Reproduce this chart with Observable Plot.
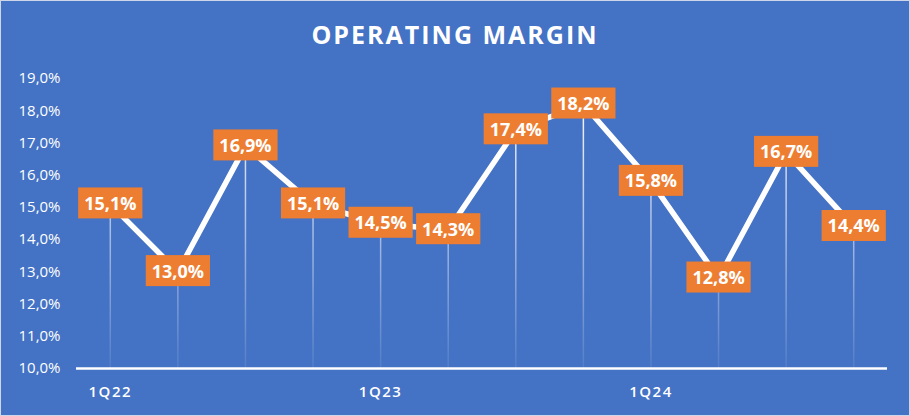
<!DOCTYPE html>
<html><head><meta charset="utf-8">
<script src="https://cdn.jsdelivr.net/npm/d3@7"></script>
<script src="https://cdn.jsdelivr.net/npm/@observablehq/plot@0.6"></script>
<style>
html,body{margin:0;padding:0;background:#4472C4;}
#chart{position:relative;width:910px;height:416px;background:#4472C4;overflow:hidden;font-family:"Open Sans",sans-serif;}
#frame{position:absolute;left:0;top:0;width:910px;height:416px;box-sizing:border-box;border:1px solid #cfd6ea;pointer-events:none;}
#title{position:absolute;top:22px;left:0;width:910px;text-align:center;color:#fff;font-weight:700;font-size:25px;line-height:25px;letter-spacing:2px;}
#plot{position:absolute;top:60px;left:0;}
</style></head><body>
<div id="chart"><div id="title">OPERATING MARGIN</div><div id="plot"></div><div id="frame"></div></div>
<script>
const quarters = ["1Q22","2Q22","3Q22","4Q22","1Q23","2Q23","3Q23","4Q23","1Q24","2Q24","3Q24","4Q24"];
const margins = [15.1, 13.0, 16.9, 15.1, 14.5, 14.3, 17.4, 18.2, 15.8, 12.8, 16.7, 14.4];
const xTickLabels = ["1Q22","1Q23","1Q24"];
const yTicks = [10, 11, 12, 13, 14, 15, 16, 17, 18, 19];

const data = quarters.map((q, i) => ({q, v: margins[i]}));
const fmt = v => v.toFixed(1).replace(".", ",") + "%";

const plot = Plot.plot({
  width: 910, height: 356,
  marginTop: 18, marginBottom: 48, marginLeft: 76, marginRight: 23,
  style: {background: "transparent", color: "#fff", fontFamily: "Open Sans", overflow: "visible"},
  x: {type: "band", domain: quarters, padding: 0, round: false},
  y: {domain: [10, 19]},
  marks: [
    Plot.ruleX(data, {x: "q", y1: 10, y2: "v", stroke: "url(#fade)", strokeWidth: 1.5}),
    Plot.ruleY([10], {stroke: "#fff", strokeWidth: 2.5}),
    Plot.line(data, {x: "q", y: "v", stroke: "#fff", strokeWidth: 5.5}),
    Plot.axisY({ticks: yTicks, tickSize: 0, tickPadding: 16, tickFormat: fmt, fontSize: 15, label: null}),
    Plot.axisX({ticks: xTickLabels, tickSize: 0, tickPadding: 18, fontSize: 15, fontWeight: 600, label: null}),
    Plot.text(data, {x: "q", y: "v", text: d => fmt(d.v), fill: "#fff", fontSize: 18, fontWeight: 700})
  ]
});

const ns = "http://www.w3.org/2000/svg";
const defs = document.createElementNS(ns, "defs");
defs.innerHTML = '<linearGradient id="fade" gradientUnits="userSpaceOnUse" x1="0" y1="60" x2="0" y2="308">' +
  '<stop offset="0" stop-color="#fff" stop-opacity="0.9"/><stop offset="1" stop-color="#fff" stop-opacity="0.08"/></linearGradient>';
plot.insertBefore(defs, plot.firstChild);

document.getElementById("plot").append(plot);

const xt = plot.querySelectorAll('g[aria-label="x-axis tick label"] text');
xt.forEach(t => t.setAttribute("letter-spacing", "1.5px"));

const g = plot.querySelector('g[aria-label="text"]');
if (g) {
  g.querySelectorAll("text").forEach(t => {
    const b = t.getBBox();
    const cy = b.y + b.height / 2;
    const r = document.createElementNS(ns, "rect");
    r.setAttribute("x", b.x - 6);
    r.setAttribute("width", b.width + 12);
    r.setAttribute("y", cy - 15.5);
    r.setAttribute("height", 31);
    r.setAttribute("fill", "#ED7D31");
    const tr = t.getAttribute("transform");
    if (tr) r.setAttribute("transform", tr);
    g.insertBefore(r, t);
  });
}
</script>
</body></html>
